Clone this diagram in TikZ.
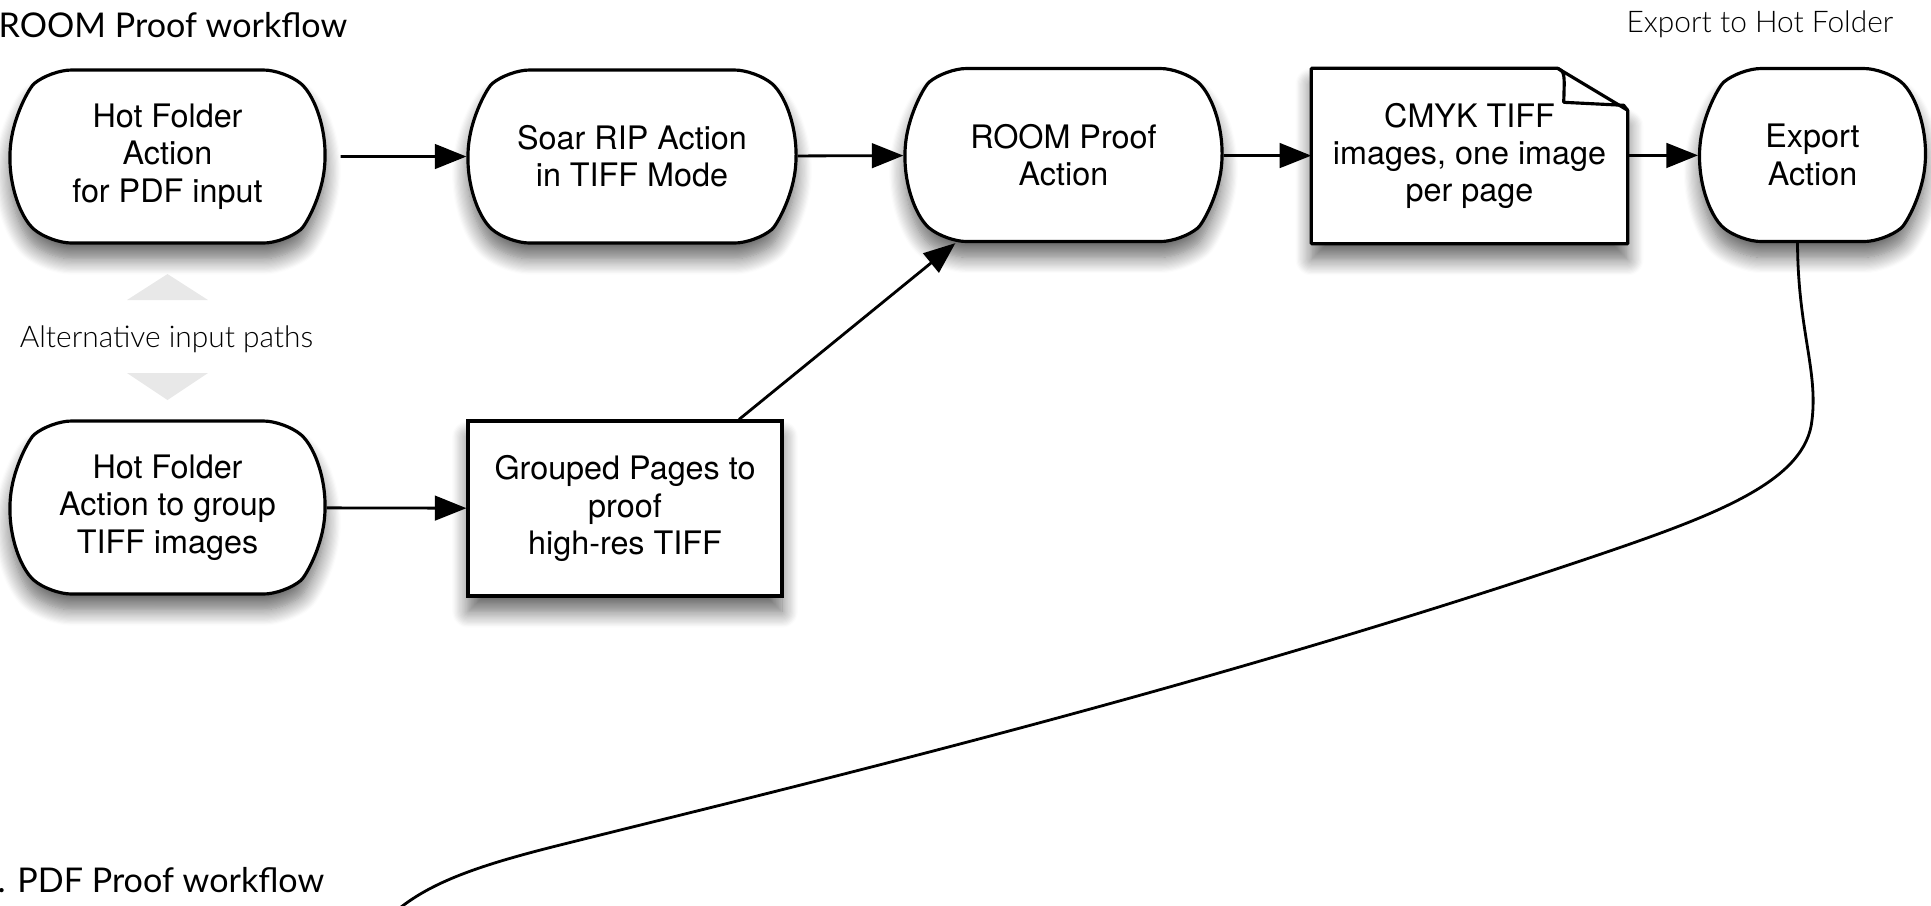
\documentclass[tikz,border=0pt]{standalone}
\usepackage{fontspec}
\setmainfont{TeX Gyre Heros}
\newfontfamily\gillfont{Lato}
\newfontfamily\gilllight{Lato Light}
\usetikzlibrary{shapes.misc}
\usetikzlibrary{arrows.meta}
\usetikzlibrary{shadows.blur}
\usetikzlibrary{backgrounds}

\begin{document}
\begin{tikzpicture}[
    boxfont/.style={font=\fontsize{9.2}{10.6}\selectfont},
    softshadow/.style={blur shadow={shadow xshift=0pt, shadow yshift=-4.5pt, shadow blur radius=4.5pt, shadow blur steps=14, shadow opacity=60}},
    action/.style={boxfont, draw, line width=0.9pt, fill=white, rounded rectangle, rounded rectangle arc length=100, rounded corners=6pt, minimum height=1.73cm, inner sep=0pt, align=center, softshadow},
    file/.style={boxfont, draw, line width=0.9pt, fill=white, rectangle, minimum width=3.14cm, minimum height=1.75cm, align=center, softshadow},
    paper/.style={boxfont, rectangle, minimum width=3.15cm, minimum height=1.74cm, align=center},
    flow/.style={line width=0.8pt, -{Triangle[length=9pt,width=7pt,fill=black]}},
    heading/.style={font=\gillfont\fontsize{9.7}{11}\selectfont, inner sep=0pt},
    note/.style={font=\gilllight\fontsize{8.5}{10}\selectfont, inner sep=0pt}
  ]
  \useasboundingbox (0,0) rectangle (19.31,-9.05);

  % headings
  \node[heading, anchor=base west] (room title) at (-0.02,-0.37) {ROOM Proof workflow};
  \node[heading, anchor=base west] (pdf title) at (-0.03,-8.92) {. PDF Proof workflow};
  \node[note, anchor=base east] (export title) at (18.94,-0.32) {Export to Hot Folder};

  % top row
  \node[action, minimum width=3.15cm] (hf pdf) at (1.675,-1.565) {Hot Folder\\Action\\for PDF input};
  \node[action, minimum width=3.28cm] (soar) at (6.32,-1.565) {Soar RIP Action\\in TIFF Mode};
  \node[action, minimum width=3.17cm] (room) at (10.635,-1.55) {ROOM Proof\\Action};
  \node[paper] (tiff) at (14.695,-1.56) {CMYK TIFF\\images, one image\\per page};
  \node[action, minimum width=2.05cm] (export) at (18.125,-1.55) {Export\\Action};

  % bottom row
  \node[action, minimum width=3.15cm] (hf tiff) at (1.675,-5.075) {Hot Folder\\Action to group\\TIFF images};
  \node[file] (grouped) at (6.25,-5.085) {Grouped Pages to\\proof\\high-res TIFF};

  % page with folded corner
  \begin{pgfonlayer}{background}
    \draw[line width=0.9pt, fill=white, line join=round, softshadow] (tiff.south west) -- (tiff.north west)
      -- ([xshift=-0.7cm]tiff.north east) -- ([yshift=-0.42cm]tiff.north east) -- (tiff.south east) -- cycle;
  \end{pgfonlayer}
  \draw[line width=0.9pt, line join=round] ([xshift=-0.7cm]tiff.north east)
    .. controls ([xshift=-0.63cm,yshift=-0.04cm]tiff.north east) .. ([xshift=-0.64cm,yshift=-0.34cm]tiff.north east)
    -- ([xshift=-0.04cm,yshift=-0.37cm]tiff.north east) -- ([yshift=-0.42cm]tiff.north east);

  % alternative inputs
  \fill[black!9] (1.27,-3.0) -- (2.08,-3.0) -- (1.675,-2.74) -- cycle;
  \fill[black!9] (1.27,-3.73) -- (2.08,-3.73) -- (1.675,-4.0) -- cycle;
  \node[note, anchor=base] (alt) at (1.665,-3.47) {Alternative input paths};

  % connectors
  \draw[flow, shorten <=4pt] (hf pdf) -- (soar);
  \draw[flow] (soar) -- (room);
  \draw[flow] (room) -- (tiff);
  \draw[flow] (tiff) -- (export);
  \draw[flow] (hf tiff) -- (grouped);
  \draw[flow] (grouped.38) -- (room);

  \coordinate (pdf flow) at (3.95,-9.12);
  \draw[line width=0.8pt] ([xshift=-0.15cm]export.south) .. controls (17.98,-3.3) and (18.18,-3.7) .. (18.12,-4.2)
    .. controls (18.06,-4.8) and (17.2,-5.135) .. (16.01,-5.54)
    .. controls (12.0,-6.9) and (8.0,-7.85) .. (5.6,-8.45)
    .. controls (4.8,-8.65) and (4.3,-8.82) .. (pdf flow);
\end{tikzpicture}
\end{document}
